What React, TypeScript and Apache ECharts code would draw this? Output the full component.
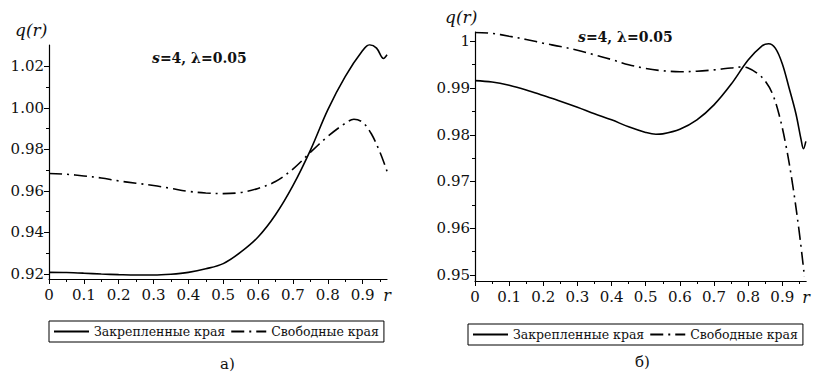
import React, { useEffect, useRef } from "react";
import * as echarts from "echarts";

const seriesNames = ["Закрепленные края", "Свободные края"];

// Left chart (а)
const rLeftFixed = [0, 0.05, 0.1, 0.15, 0.2, 0.25, 0.3, 0.35, 0.4, 0.45, 0.5, 0.55, 0.6, 0.65, 0.7, 0.75, 0.8, 0.85, 0.9, 0.92, 0.94, 0.96, 0.97];
const qLeftFixed = [0.9208, 0.9207, 0.9204, 0.92, 0.9197, 0.9195, 0.9195, 0.9199, 0.9208, 0.9225, 0.925, 0.9305, 0.9378, 0.9485, 0.9625, 0.9795, 0.999, 1.015, 1.0275, 1.0303, 1.0287, 1.0237, 1.0255];
const rLeftFree = [0, 0.05, 0.1, 0.15, 0.2, 0.25, 0.3, 0.35, 0.4, 0.45, 0.5, 0.55, 0.6, 0.65, 0.7, 0.75, 0.8, 0.85, 0.875, 0.9, 0.925, 0.95, 0.97];
const qLeftFree = [0.9684, 0.968, 0.9672, 0.9662, 0.9648, 0.9637, 0.9626, 0.9612, 0.9598, 0.959, 0.9587, 0.9592, 0.9612, 0.9645, 0.9705, 0.9785, 0.9862, 0.9925, 0.9945, 0.993, 0.9875, 0.9785, 0.9695];

// Right chart (б)
const rRightFixed = [0, 0.05, 0.1, 0.15, 0.2, 0.25, 0.3, 0.35, 0.4, 0.45, 0.5, 0.53, 0.55, 0.6, 0.65, 0.7, 0.75, 0.8, 0.84, 0.86, 0.88, 0.9, 0.92, 0.94, 0.955, 0.962, 0.969];
const qRightFixed = [0.9916, 0.9913, 0.9906, 0.9896, 0.9884, 0.9872, 0.9859, 0.9845, 0.9832, 0.9817, 0.9805, 0.9801, 0.9802, 0.9812, 0.9832, 0.9864, 0.9908, 0.996, 0.999, 0.9995, 0.9985, 0.9952, 0.99, 0.9845, 0.979, 0.977, 0.9786];
const rRightFree = [0, 0.05, 0.1, 0.15, 0.2, 0.25, 0.3, 0.35, 0.4, 0.45, 0.5, 0.55, 0.6, 0.65, 0.7, 0.75, 0.78, 0.8, 0.83, 0.85, 0.87, 0.89, 0.91, 0.93, 0.95, 0.965];
const qRightFree = [1.0019, 1.0017, 1.0011, 1.0004, 0.9996, 0.9989, 0.9981, 0.9971, 0.9961, 0.995, 0.9942, 0.9937, 0.9935, 0.9936, 0.9939, 0.9943, 0.9945, 0.9943, 0.993, 0.9915, 0.989, 0.9845, 0.978, 0.9695, 0.959, 0.9496];

// Ticks
const xMajorTicks = [0, 0.1, 0.2, 0.3, 0.4, 0.5, 0.6, 0.7, 0.8, 0.9];
const xMinorTicks = [0.05, 0.15, 0.25, 0.35, 0.45, 0.55, 0.65, 0.75, 0.85, 0.95];
const xEnd = 0.97;
const yLeftMajor = [0.92, 0.94, 0.96, 0.98, 1.0, 1.02];
const yLeftMinor = [0.93, 0.95, 0.97, 0.99, 1.01];
const yRightMajor = [0.95, 0.96, 0.97, 0.98, 0.99, 1.0];
const yRightMinor = [0.955, 0.965, 0.975, 0.985, 0.995];

const FONT = "DejaVu Serif";
const zip = (xs: number[], ys: number[]) => xs.map((x, i) => [x, ys[i]]);

export default function App() {
  const ref = useRef<HTMLDivElement>(null);
  useEffect(() => {
    if (!ref.current) return;
    const chart = echarts.init(ref.current, null, { renderer: "svg" });

    const mainX = (grid: number) => ({
      type: "value",
      gridIndex: grid,
      min: 0,
      max: xEnd,
      position: "bottom",
      axisLine: { show: true, lineStyle: { color: "#000", width: 1.2 } },
      axisTick: { show: true, customValues: xMajorTicks, length: 5, lineStyle: { color: "#000" } },
      axisLabel: {
        customValues: [...xMajorTicks, xEnd],
        margin: 8,
        color: "#111",
        fontFamily: FONT,
        fontSize: 15,
        formatter: (v: number) => (v > 0.95 ? "{i|r}" : String(v)),
        rich: { i: { fontStyle: "italic", fontFamily: FONT, fontSize: 16, color: "#111" } },
      },
      splitLine: { show: false },
    });
    const minorX = (grid: number) => ({
      type: "value",
      gridIndex: grid,
      min: 0,
      max: xEnd,
      position: "bottom",
      axisLine: { show: false },
      axisTick: { show: true, customValues: xMinorTicks, length: 3, lineStyle: { color: "#000" } },
      axisLabel: { show: false },
      splitLine: { show: false },
    });
    const mainY = (grid: number, min: number, max: number, ticks: number[], fmt: (v: number) => string) => ({
      type: "value",
      gridIndex: grid,
      min,
      max,
      position: "left",
      axisLine: { show: true, lineStyle: { color: "#000", width: 1.2 } },
      axisTick: { show: true, customValues: ticks, length: 5, lineStyle: { color: "#000" } },
      axisLabel: { customValues: ticks, margin: 5, color: "#111", fontFamily: FONT, fontSize: 15, formatter: fmt },
      splitLine: { show: false },
    });
    const minorY = (grid: number, min: number, max: number, ticks: number[]) => ({
      type: "value",
      gridIndex: grid,
      min,
      max,
      position: "left",
      axisLine: { show: false },
      axisTick: { show: true, customValues: ticks, length: 3, lineStyle: { color: "#000" } },
      axisLabel: { show: false },
      splitLine: { show: false },
    });

    const line = (name: string, xi: number, yi: number, data: number[][], dashed: boolean) => ({
      type: "line",
      name,
      xAxisIndex: xi,
      yAxisIndex: yi,
      data,
      symbol: "none",
      showSymbol: false,
      smooth: 0.35,
      lineStyle: { color: "#000", width: 1.6, type: dashed ? [13, 5, 2, 5] : "solid" },
      itemStyle: { color: "#000" },
    });

    const legendBase = {
      orient: "horizontal",
      itemWidth: 35,
      itemHeight: 14,
      itemGap: 5,
      width: 345,
      padding: [4, 5, 4, 4],
      borderColor: "#000",
      borderWidth: 1,
      itemStyle: { color: "transparent", borderWidth: 0, opacity: 0 },
      lineStyle: { color: "#000", width: 2 },
      textStyle: { fontFamily: FONT, fontSize: 12.5, color: "#111" },
      data: seriesNames,
    };

    chart.setOption({
      animation: false,
      backgroundColor: "#fff",
      textStyle: { fontFamily: FONT },
      grid: [
        { left: 49, top: 45, width: 338, height: 234 },
        { left: 475, top: 32, width: 333, height: 249 },
      ],
      xAxis: [mainX(0), minorX(0), mainX(1), minorX(1)],
      yAxis: [
        mainY(0, 0.9176, 1.0302, yLeftMajor, (v: number) => v.toFixed(2)),
        minorY(0, 0.9176, 1.0302, yLeftMinor),
        mainY(1, 0.9487, 1.002, yRightMajor, (v: number) => String(Number(v.toFixed(3)))),
        minorY(1, 0.9487, 1.002, yRightMinor),
      ],
      legend: [
        { ...legendBase, left: 49, top: 321 },
        { ...legendBase, left: 468, top: 324 },
      ],
      title: [
        { text: "q(r)", left: 15, top: 21, padding: 0, textStyle: { fontFamily: FONT, fontSize: 17, fontStyle: "italic", fontWeight: "normal", color: "#111" } },
        { text: "q(r)", left: 445, top: 8, padding: 0, textStyle: { fontFamily: FONT, fontSize: 17, fontStyle: "italic", fontWeight: "normal", color: "#111" } },
        {
          text: "{s|s}{b|=4, λ=0.05}",
          left: 152,
          top: 51,
          padding: 0,
          textStyle: {
            rich: {
              s: { fontFamily: FONT, fontSize: 14, fontStyle: "italic", fontWeight: "bold", color: "#111" },
              b: { fontFamily: FONT, fontSize: 14, fontWeight: "bold", color: "#111" },
            },
          },
        },
        {
          text: "{s|s}{b|=4, λ=0.05}",
          left: 578,
          top: 30,
          padding: 0,
          textStyle: {
            rich: {
              s: { fontFamily: FONT, fontSize: 14, fontStyle: "italic", fontWeight: "bold", color: "#111" },
              b: { fontFamily: FONT, fontSize: 14, fontWeight: "bold", color: "#111" },
            },
          },
        },
        { text: "а)", left: 220, top: 356, padding: 0, textStyle: { fontFamily: FONT, fontSize: 15, fontWeight: "normal", color: "#111" } },
        { text: "б)", left: 635, top: 354, padding: 0, textStyle: { fontFamily: FONT, fontSize: 15, fontWeight: "normal", color: "#111" } },
      ],
      series: [
        line(seriesNames[0], 0, 0, zip(rLeftFixed, qLeftFixed), false),
        line(seriesNames[1], 0, 0, zip(rLeftFree, qLeftFree), true),
        line(seriesNames[0], 2, 2, zip(rRightFixed, qRightFixed), false),
        line(seriesNames[1], 2, 2, zip(rRightFree, qRightFree), true),
      ],
    });
    return () => chart.dispose();
  }, []);
  return <div ref={ref} style={{ position: "absolute", left: 0, top: 0, width: 813, height: 373 }} />;
}
